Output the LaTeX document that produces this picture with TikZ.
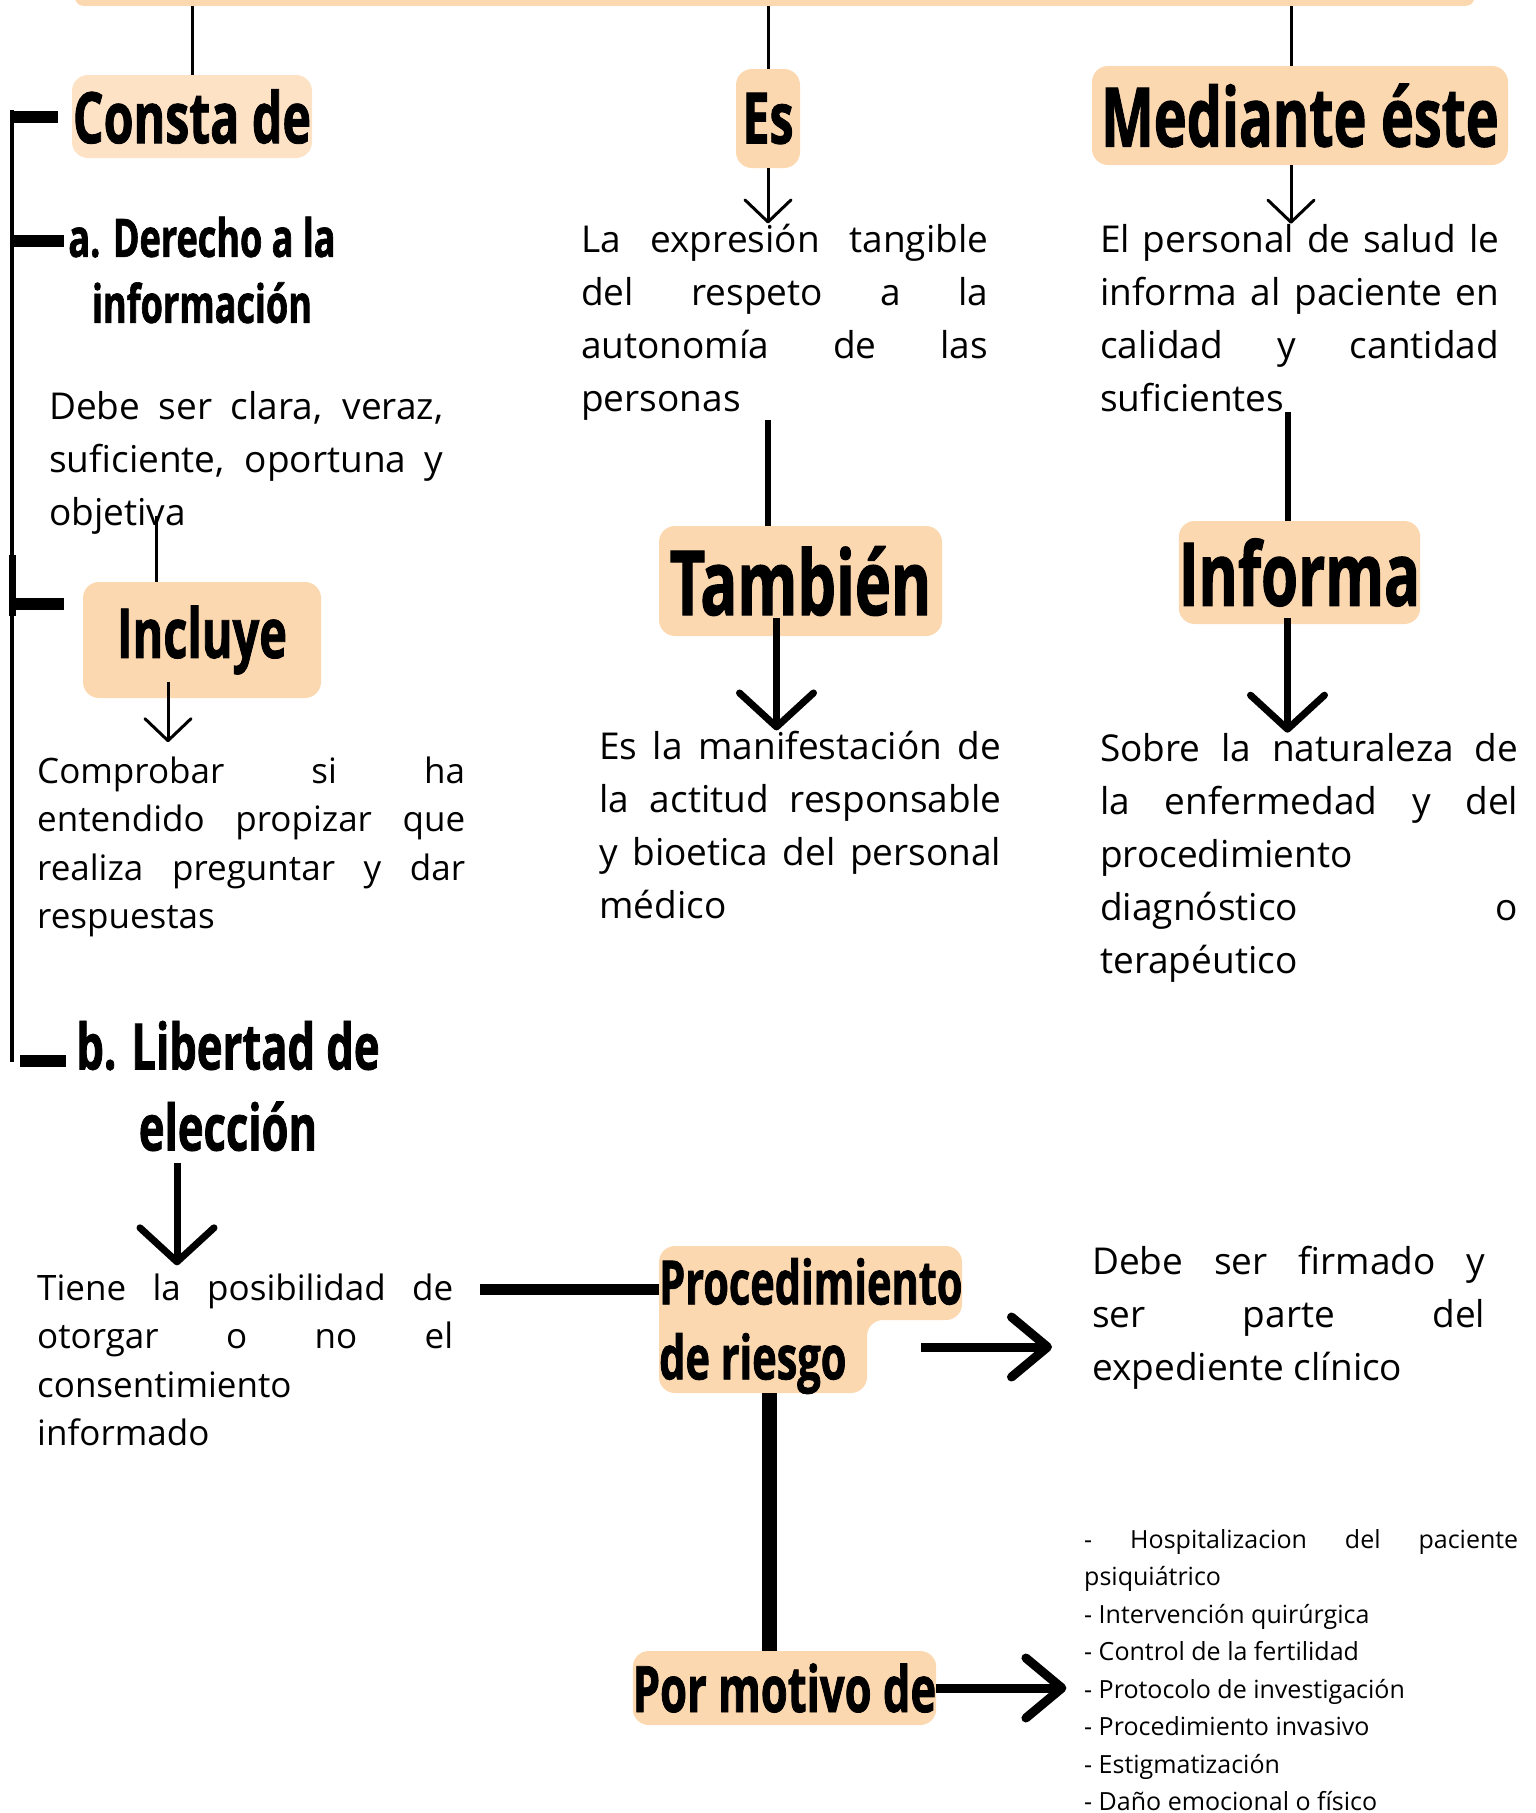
\documentclass[tikz,border=0pt]{standalone}
\usepackage{fontspec}
\setmainfont{Open Sans}
\newfontfamily\headfont[FakeStretch=0.68,BoldFeatures={FakeBold=1.2}]{Open Sans}
\usetikzlibrary{positioning, arrows.meta}
\definecolor{peach}{RGB}{252,216,176}
\definecolor{peachlight}{RGB}{253,226,198}
\hyphenpenalty=10000
\exhyphenpenalty=10000
\tikzset{
tag/.style={fill=peach, rounded corners=16pt, inner sep=0pt},
head/.style={inner sep=0pt, align=center},
hd/.style={font=\headfont\bfseries\fontsize{#1}{#1}\selectfont},
txt/.style={inner sep=0pt, anchor=base west, align=justify, font=\fontsize{37}{53}\selectfont},
small/.style={txt, font=\fontsize{35}{48.5}\selectfont},
link/.style={line width=3pt},
bold link/.style={line width=6pt},
bar link/.style={line width=11pt},
heavy link/.style={line width=15pt},
tick/.style={line width=12pt},
thin arrow/.style={line width=3pt, -{Straight Barb[length=22pt, width=46pt, round]}},
thick arrow/.style={line width=7pt, -{Straight Barb[length=34pt, width=74pt, round]}},
side arrow/.style={line width=9pt, -{Straight Barb[length=36pt, width=60pt, round]}},
}

\begin{document}
\begin{tikzpicture}[x=1pt, y=-1pt]
    \useasboundingbox (0,0) rectangle (1535,1813);

    %top bar
    \node[fill=peach, rounded corners=8pt, minimum width=1399pt, minimum height=30pt, inner sep=0pt, anchor=south west] (bar) at (75,6) {};

    %headings
    \node[tag, hd=71, fill=peachlight, minimum width=240pt, minimum height=83pt] (consta) at (192,116.5) {Consta de};
    \node[tag, hd=71, minimum width=64pt, minimum height=99pt] (es) at (768,118.5) {Es};
    \node[tag, hd=82, minimum width=416pt, minimum height=99pt] (medi) at (1300,115.5) {Mediante éste};

    %left column
    \node[head, hd=53] (derecho) at (202,270) {a. Derecho a la\\[13pt]información};
    \node[txt, text width=394pt] (clara) at (49,419) {Debe ser clara, veraz,\linebreak suficiente, oportuna y\linebreak objetiva};
    \node[tag, hd=69, minimum width=238pt, minimum height=116pt] (incl) at (202,640) {Incluye};
    \node[small, text width=428pt] (compr) at (37,783) {Comprobar si ha\linebreak entendido propizar que\linebreak realiza preguntar y dar\linebreak respuestas};
    \node[head, hd=64] (libre) at (228,1086) {b. Libertad de\\[17pt]elección};
    \node[small, text width=416pt] (tiene) at (37,1300) {Tiene la posibilidad de\linebreak otorgar o no el\linebreak consentimiento\linebreak informado};

    %middle column
    \node[txt, text width=407pt] (expr) at (581,252) {La expresión tangible\linebreak del respeto a la\linebreak autonomía de las\linebreak personas};
    \node[tag, hd=90, minimum width=283pt, minimum height=110pt] (tamb) at (800.5,581) {También};
    \node[txt, text width=402pt] (manif) at (599,759) {Es la manifestación de\linebreak la actitud responsable\linebreak y bioetica del personal\linebreak médico};

    %right column
    \node[txt, text width=399pt] (pers) at (1100,252) {El personal de salud le\linebreak informa al paciente en\linebreak calidad y cantidad\linebreak suficientes};
    \node[tag, hd=88, minimum width=241pt, minimum height=103pt] (info) at (1299.5,572.5) {Informa};
    \node[txt, text width=418pt] (sobre) at (1100,761) {Sobre la naturaleza de\linebreak la enfermedad y del\linebreak procedimiento\linebreak diagnóstico o\linebreak terapéutico};

    %bottom part
    \fill[peach, rounded corners=16pt] (659,1246) -- (962,1246) -- (962,1320) -- (867,1320) -- (867,1393) -- (659,1393) -- cycle;
    \coordinate (procbot) at (769,1393);
    \node[head, hd=61, align=left, anchor=west] (proc) at (659,1326) {Procedimiento\\[14pt]de riesgo};
    \node[txt, text width=393pt] (firm) at (1092,1274) {Debe ser firmado y\linebreak ser parte del\linebreak expediente clínico};
    \node[tag, hd=64, minimum width=303pt, minimum height=74pt] (motivo) at (784.5,1688) {Por motivo de};
    \node[txt, text width=434pt, font=\fontsize{25}{37.5}\selectfont] (lista) at (1084,1548) {- Hospitalizacion del paciente\linebreak psiquiátrico\\ - Intervención quirúrgica\\ - Control de la fertilidad\\ - Protocolo de investigación\\ - Procedimiento invasivo\\ - Estigmatización\\ - Daño emocional o físico};

    %left spine
    \coordinate (top) at (12,110);
    \coordinate (bot) at (12,1062);
    \draw[line width=4pt] (top) -- (bot);
    \draw[line width=7pt] (12,555) -- (12,616);
    \draw[tick] (top |- consta.west) -- ([xshift=-14pt]consta.west);
    \draw[tick] (top |- 0,241) -- ++(52,0);
    \draw[tick] (top |- 0,604) -- ++(52,0);
    \draw[tick] (20,1061) -- ++(46,0);

    %links
    \draw[link] (bar.south -| consta.north) -- (consta.north);
    \draw[link] (bar.south -| es.north) -- (es.north);
    \draw[link] ([xshift=-9pt]bar.south -| medi.north) -- ([xshift=-9pt]medi.north);
    \draw[thin arrow] (es.south) -- (es.south |- expr.north);
    \draw[thin arrow] ([xshift=-9pt]medi.south) -- ([xshift=-9pt]medi.south |- pers.north);
    \draw[bold link] (es.south |- expr.south) -- (es.south |- tamb.north);
    \draw[bold link] ([xshift=-12pt]info.north |- pers.south) -- ([xshift=-12pt]info.north);
    \draw[thick arrow] ([xshift=-24pt,yshift=18pt]tamb.south) -- ([xshift=-24pt]tamb.south |- manif.north);
    \draw[thick arrow] ([xshift=-12pt,yshift=6pt]info.south) -- ([xshift=-12pt]info.south |- sobre.north);
    \draw[link] ([xshift=-46pt]incl.north) -- ++(0,-66);
    \draw[thin arrow] ([xshift=-34pt,yshift=16pt]incl.south) -- ++(0,60);
    \draw[thick arrow] (libre.south) ++(-51,12) -- ++(0,102);
    \coordinate (t1) at (480,1289);
    \draw[bar link] (t1) -- (t1 -| proc.west);
    \coordinate (p2) at (921,1347);
    \draw[side arrow] (p2) -- ++(131,0);
    \draw[heavy link] (procbot) -- (procbot |- motivo.north);
    \draw[side arrow] (motivo.east) -- ++(130,0);
\end{tikzpicture}
\end{document}
